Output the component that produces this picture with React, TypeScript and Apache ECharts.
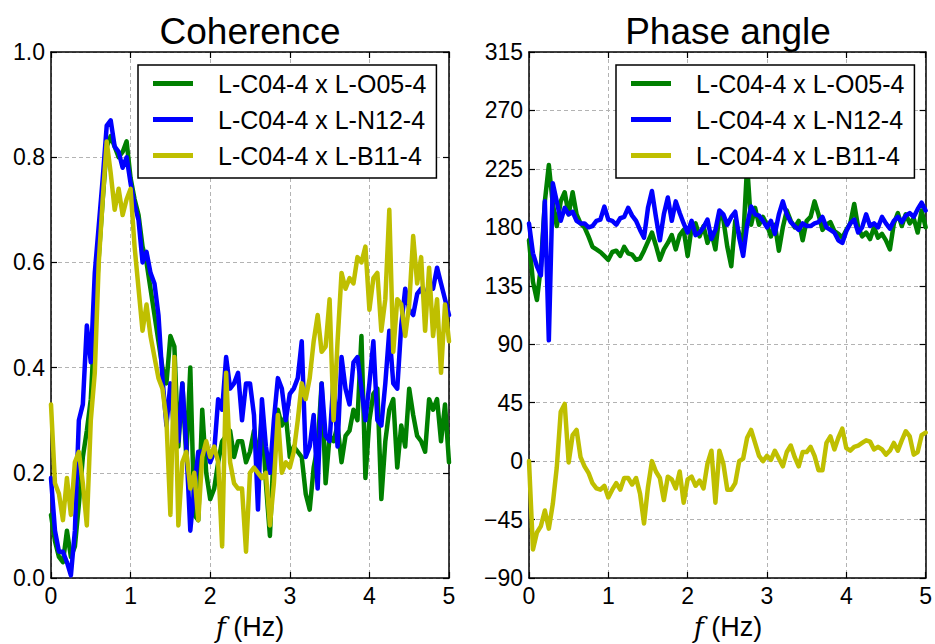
import React, { useEffect, useRef } from "react";
import * as echarts from "echarts";

// ---------- data ----------
const FREQ_STEP = 0.05; // Hz, sample spacing of every series below (0 .. 5 Hz)
const SERIES_NAMES = ["L-C04-4 x L-O05-4", "L-C04-4 x L-N12-4", "L-C04-4 x L-B11-4"];
const COLORS = ["#008000", "#0000ff", "#bfbf00"];

const X_MIN = 0, X_MAX = 5, X_STEP = 1;
const COH_MIN = 0, COH_MAX = 1, COH_STEP = 0.2;
const PH_MIN = -90, PH_MAX = 315, PH_STEP = 45;

const COH_O05 = [
  0.12, 0.07, 0.04, 0.03, 0.09, 0.04, 0.06, 0.14, 0.23, 0.28,
  0.34, 0.49, 0.61, 0.72, 0.82, 0.84, 0.82, 0.80, 0.81, 0.83,
  0.76, 0.72, 0.69, 0.63, 0.60, 0.55, 0.50, 0.45, 0.40, 0.37,
  0.46, 0.44, 0.25, 0.37, 0.23, 0.40, 0.12, 0.11, 0.32, 0.20,
  0.15, 0.17, 0.22, 0.26, 0.27, 0.28, 0.23, 0.26, 0.26, 0.22,
  0.24, 0.28, 0.22, 0.31, 0.18, 0.08, 0.25, 0.32, 0.29, 0.31,
  0.23, 0.25, 0.24, 0.23, 0.16, 0.13, 0.21, 0.25, 0.37, 0.18,
  0.27, 0.26, 0.29, 0.22, 0.27, 0.28, 0.32, 0.30, 0.46, 0.19,
  0.30, 0.35, 0.36, 0.15, 0.26, 0.32, 0.34, 0.21, 0.29, 0.25,
  0.36, 0.31, 0.27, 0.26, 0.24, 0.34, 0.32, 0.34, 0.26, 0.33,
  0.22,
];
const COH_N12 = [
  0.19, 0.09, 0.05, 0.05, 0.03, 0.005, 0.09, 0.30, 0.33, 0.48,
  0.41, 0.58, 0.67, 0.76, 0.86, 0.87, 0.82, 0.81, 0.78, 0.80,
  0.75, 0.71, 0.68, 0.60, 0.62, 0.58, 0.56, 0.50, 0.38, 0.29,
  0.37, 0.27, 0.26, 0.37, 0.25, 0.09, 0.17, 0.24, 0.24, 0.25,
  0.22, 0.24, 0.34, 0.32, 0.42, 0.36, 0.37, 0.39, 0.30, 0.37,
  0.37, 0.31, 0.13, 0.34, 0.25, 0.20, 0.30, 0.38, 0.36, 0.30,
  0.35, 0.36, 0.38, 0.45, 0.23, 0.25, 0.31, 0.17, 0.37, 0.27,
  0.26, 0.38, 0.25, 0.42, 0.36, 0.33, 0.41, 0.42, 0.36, 0.30,
  0.37, 0.45, 0.30, 0.29, 0.37, 0.47, 0.37, 0.36, 0.48, 0.55,
  0.51, 0.50, 0.54, 0.55, 0.53, 0.56, 0.55, 0.59, 0.56, 0.53,
  0.50,
];
const COH_B11 = [
  0.33, 0.18, 0.16, 0.11, 0.19, 0.12, 0.22, 0.24, 0.18, 0.10,
  0.30, 0.39, 0.60, 0.72, 0.83, 0.77, 0.70, 0.74, 0.69, 0.72,
  0.74, 0.63, 0.55, 0.47, 0.52, 0.46, 0.42, 0.38, 0.36, 0.30,
  0.12, 0.42, 0.10, 0.22, 0.24, 0.17, 0.20, 0.11, 0.23, 0.26,
  0.23, 0.25, 0.22, 0.06, 0.39, 0.22, 0.18, 0.17, 0.17, 0.05,
  0.20, 0.21, 0.20, 0.19, 0.20, 0.10, 0.18, 0.31, 0.20, 0.22,
  0.21, 0.24, 0.30, 0.37, 0.34, 0.38, 0.45, 0.50, 0.43, 0.44,
  0.53, 0.30, 0.45, 0.58, 0.55, 0.57, 0.56, 0.61, 0.60, 0.63,
  0.51, 0.57, 0.58, 0.47, 0.53, 0.70, 0.43, 0.53, 0.52, 0.46,
  0.52, 0.65, 0.56, 0.61, 0.47, 0.59, 0.46, 0.53, 0.39, 0.52,
  0.45,
];

const PH_O05 = [
  170, 138, 124, 150, 200, 228, 198, 181, 200, 207,
  190, 207, 190, 183, 180, 173, 165, 163, 161, 158,
  155, 161, 162, 158, 165, 160, 159, 155, 156, 162,
  169, 176, 166, 155, 163, 168, 174, 163, 174, 178,
  158, 180, 183, 173, 181, 168, 176, 163, 190, 186,
  165, 150, 185, 175, 170, 228, 182, 195, 182, 188,
  182, 173, 182, 162, 180, 193, 185, 180, 185, 170,
  185, 188, 200, 190, 178, 182, 184, 177, 175, 172,
  178, 183, 198, 180, 173, 176, 171, 180, 172, 175,
  170, 163, 183, 191, 181, 190, 183, 187, 176, 193,
  180,
];
const PH_N12 = [
  183, 160, 150, 143, 200, 93, 214, 200, 185, 195,
  190, 192, 185, 183, 183, 180, 181, 185, 186, 196,
  186, 185, 182, 187, 188, 195, 189, 185, 178, 172,
  195, 208, 188, 170, 190, 203, 185, 200, 191, 183,
  176, 185, 174, 176, 180, 186, 171, 178, 193, 190,
  182, 188, 192, 172, 158, 182, 196, 190, 189, 185,
  180, 185, 175, 190, 200, 190, 184, 181, 178, 183,
  181, 181, 183, 184, 188, 180, 178, 176, 170, 168,
  177, 183, 186, 176, 180, 190, 181, 183, 180, 188,
  183, 179, 185, 188, 184, 189, 191, 188, 194, 199,
  193,
];
const PH_B11 = [
  0, -68, -55, -50, -38, -52, -33, -5, 38, 44,
  -1, 20, 24, 3, -4, -9, -17, -21, -22, -19,
  -28, -22, -17, -22, -13, -13, -18, -13, -25, -48,
  -20, 0, -8, -13, -30, -12, -14, -21, -8, -32,
  -14, -12, -19, -15, -21, -2, 8, -32, 8, -2,
  -22, -22, -17, 0, 2, 18, 24, 14, 4, 0,
  4, 1, 8, 2, -4, 7, 12, 3, -4, 7,
  7, 11, 4, -7, -7, 14, 19, 9, 18, 25,
  10, 8, 11, 12, 14, 16, 15, 9, 11, 9,
  5, 8, 14, 8, 16, 23, 19, 5, 7, 20,
  22,
];

// ---------- styling ----------
const FONT = "'Liberation Sans', Arial, Helvetica, sans-serif";
const GRID_W = 398;
const GRID_H = 526;
const GRID_TOP = 52;
const GRID_LEFTS = [51, 529];

function pairs(values: number[]) {
  return values.map((v, i) => [+(i * FREQ_STEP).toFixed(3), v]);
}

const axisLine = { show: true, onZero: false, lineStyle: { color: "#000", width: 1.5 } };
const axisTick = { show: true, inside: true, length: 6, lineStyle: { color: "#000", width: 1.2 } };
const splitLine = { show: true, lineStyle: { color: "#b3b3b3", width: 1, type: [4, 3] } };
const labelStyle = { fontSize: 23, fontFamily: FONT, color: "#000" };

function xAxesFor(gridIndex: number) {
  const base = { type: "value", gridIndex, min: X_MIN, max: X_MAX, interval: X_STEP, axisLine, axisTick };
  return [
    { ...base, position: "bottom", axisLabel: { ...labelStyle, margin: 6 }, splitLine },
    { ...base, position: "top", axisLabel: { show: false }, splitLine: { show: false } },
  ];
}

function yAxesFor(gridIndex: number, min: number, max: number, step: number, fmt: (v: number) => string) {
  const base = { type: "value", gridIndex, min, max, interval: step, axisLine, axisTick };
  return [
    { ...base, position: "left", axisLabel: { ...labelStyle, margin: 6, formatter: fmt }, splitLine },
    { ...base, position: "right", axisLabel: { show: false }, splitLine: { show: false } },
  ];
}

function lineSeries(name: string, color: string, data: number[], axisIndex: number, z: number) {
  return {
    type: "line",
    name,
    xAxisIndex: axisIndex,
    yAxisIndex: axisIndex,
    data: pairs(data),
    showSymbol: false,
    symbol: "none",
    z,
    lineStyle: { color, width: 4.5, join: "round", cap: "round" },
    itemStyle: { color },
    emphasis: { disabled: true },
  };
}

function legendAt(left: number) {
  return {
    left,
    top: 65,
    orient: "vertical",
    data: SERIES_NAMES,
    icon: "rect",
    itemWidth: 40,
    itemHeight: 5,
    itemGap: 11,
    padding: [6, 10, 10, 15],
    borderColor: "#000",
    borderWidth: 1.5,
    borderRadius: 0,
    backgroundColor: "#fff",
    selectedMode: false,
    textStyle: { fontSize: 25, fontFamily: FONT, color: "#000", lineHeight: 25, padding: [0, 0, 0, 20] },
  };
}

function buildOption() {
  const cohSets = [COH_O05, COH_N12, COH_B11];
  const phSets = [PH_O05, PH_N12, PH_B11];
  const series: any[] = [];
  SERIES_NAMES.forEach((n, i) => series.push(lineSeries(n, COLORS[i], cohSets[i], 0, 2 + i)));
  SERIES_NAMES.forEach((n, i) => series.push(lineSeries(n, COLORS[i], phSets[i], 2, 2 + i)));

  const titleStyle = { font: `37px ${FONT}`, fill: "#000", align: "center", verticalAlign: "middle" };
  const xName = (cx: number) => ({
    type: "text",
    x: cx,
    y: 627,
    style: {
      text: "{i|f} (Hz)",
      fontSize: 27,
      fontFamily: FONT,
      fill: "#000",
      align: "center",
      verticalAlign: "middle",
      rich: { i: { fontStyle: "italic", fontFamily: "'DejaVu Serif', serif", fontSize: 27, fill: "#000" } },
    },
  });
  const centers = GRID_LEFTS.map((l) => l + GRID_W / 2);

  return {
    animation: false,
    backgroundColor: "#fff",
    grid: GRID_LEFTS.map((left) => ({ left, top: GRID_TOP, width: GRID_W, height: GRID_H, containLabel: false })),
    xAxis: [...xAxesFor(0), ...xAxesFor(1)],
    yAxis: [
      ...yAxesFor(0, COH_MIN, COH_MAX, COH_STEP, (v: number) => v.toFixed(1)),
      ...yAxesFor(1, PH_MIN, PH_MAX, PH_STEP, (v: number) => String(Math.round(v)).replace("-", "\u2212")),
    ],
    legend: [legendAt(138), legendAt(616)],
    series,
    graphic: [
      { type: "text", x: centers[0], y: 31, style: { ...titleStyle, text: "Coherence" } },
      { type: "text", x: centers[1], y: 31, style: { ...titleStyle, text: "Phase angle" } },
      xName(centers[0]),
      xName(centers[1]),
    ],
  };
}

export default function App() {
  const ref = useRef<HTMLDivElement>(null);
  useEffect(() => {
    document.body.style.margin = "0";
    const chart = echarts.init(ref.current!, null, { renderer: "svg" });
    chart.setOption(buildOption() as any);
    return () => chart.dispose();
  }, []);
  return <div ref={ref} style={{ width: 935, height: 644 }} />;
}
